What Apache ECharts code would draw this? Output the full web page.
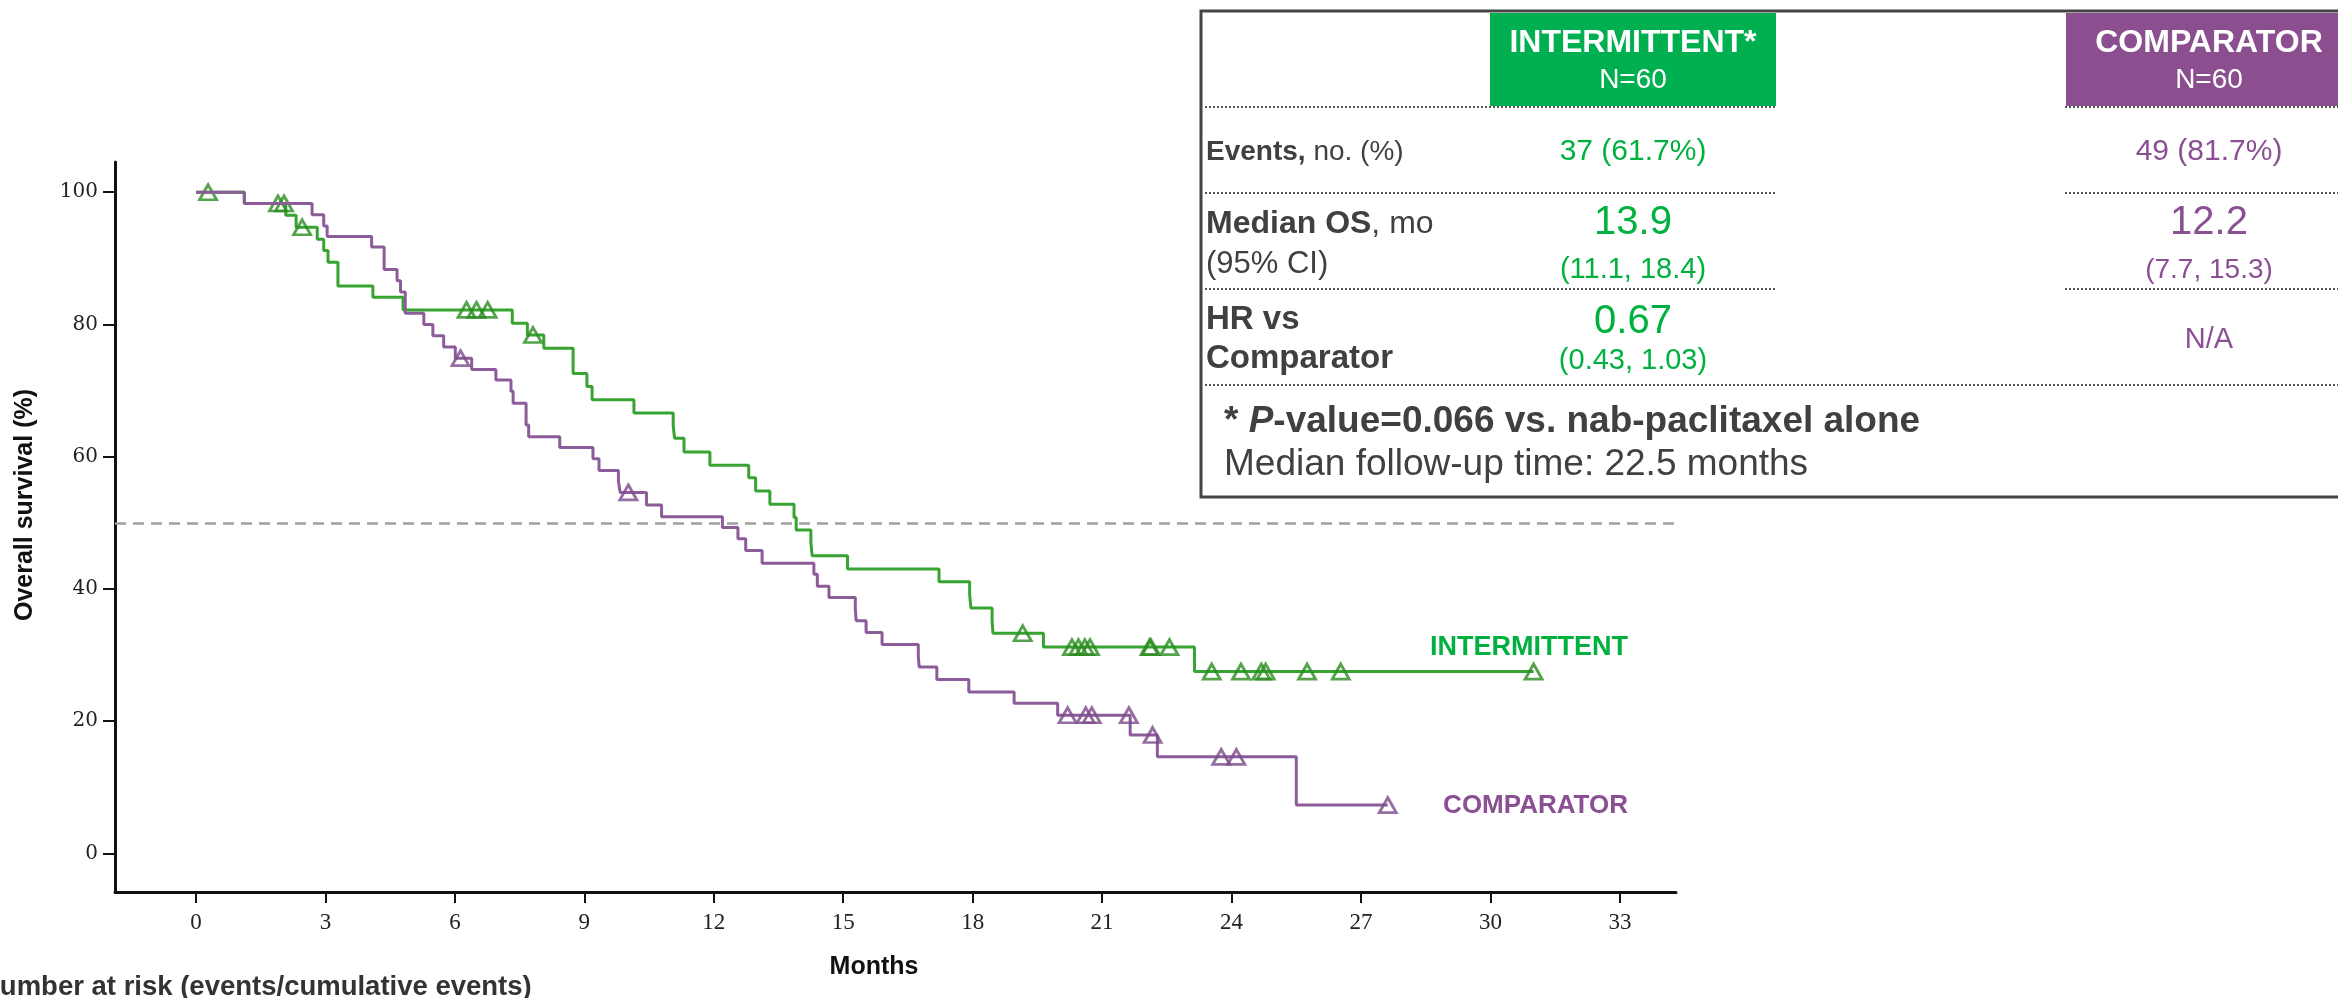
<!DOCTYPE html>
<html>
<head>
<meta charset="utf-8">
<script src="https://cdn.jsdelivr.net/npm/echarts@6/dist/echarts.min.js"></script>
<style>
  html, body { margin: 0; padding: 0; background: #ffffff; }
  #chart { width: 2338px; height: 998px; }
</style>
</head>
<body>
<div id="chart"></div>
<script>
// Kaplan–Meier overall survival: step times (months) and survival (%) after each step
const intermittentTimes = [0, 1.12, 2.08, 2.32, 2.81, 2.96, 3.06, 3.29, 4.10, 4.80,
  7.33, 7.68, 8.06, 8.74, 9.06, 9.18, 10.15, 11.06, 11.09, 11.31,
  11.91, 12.81, 12.97, 13.30, 13.86, 13.91, 14.25, 14.28, 15.10, 17.22,
  17.93, 17.96, 18.45, 18.47, 19.64, 23.14];
const intermittentSurvival = [100, 98.3, 96.5, 94.7, 92.9, 91.2, 89.4, 85.8, 84.1, 82.2,
  80.2, 78.4, 76.4, 72.6, 70.6, 68.6, 66.6, 64.7, 62.8, 60.7,
  58.7, 56.8, 54.8, 52.8, 50.8, 48.9, 47.0, 45.0, 43.0, 41.1,
  39.1, 37.1, 35.2, 33.3, 31.2, 27.5];
const intermittentCensored = [0.28, 1.90, 2.04, 2.46, 6.27, 6.50, 6.76, 7.81, 19.16, 20.30,
  20.45, 20.60, 20.72, 22.10, 22.13, 22.56, 23.54, 24.22, 24.69, 24.79, 25.75, 26.53, 31.0];

const comparatorTimes = [0, 1.12, 2.69, 2.96, 3.04, 4.07, 4.36, 4.66, 4.74, 4.85,
  5.28, 5.49, 5.74, 6.01, 6.39, 6.95, 7.30, 7.35, 7.65, 7.71,
  8.43, 9.20, 9.34, 9.79, 9.83, 10.44, 10.79, 12.20, 12.56, 12.74,
  13.12, 14.32, 14.40, 14.67, 15.28, 15.30, 15.53, 15.90, 16.74, 16.76,
  17.17, 17.91, 18.96, 19.97, 21.65, 22.28, 25.50];
const comparatorSurvival = [100, 98.3, 96.6, 94.9, 93.3, 91.7, 88.3, 86.6, 84.9, 81.7,
  80.0, 78.3, 76.6, 74.9, 73.2, 71.6, 69.9, 68.1, 64.8, 63.0,
  61.4, 59.7, 57.9, 56.3, 54.6, 52.7, 50.9, 49.3, 47.6, 45.8,
  43.9, 42.2, 40.4, 38.7, 37.0, 35.2, 33.4, 31.6, 29.8, 28.2,
  26.3, 24.4, 22.7, 20.9, 17.9, 14.6, 7.3];
const comparatorCensored = [6.13, 10.02, 20.20, 20.62, 20.76, 21.62, 22.17, 23.76, 24.11, 27.62];

const monthTicks = [0, 3, 6, 9, 12, 15, 18, 21, 24, 27, 30, 33];
const survivalTicks = [0, 20, 40, 60, 80, 100];
const medianLevel = 50;

// Summary table contents
const armNames = ['INTERMITTENT*', 'COMPARATOR'];
const armN = ['N=60', 'N=60'];
const eventsText = ['37 (61.7%)', '49 (81.7%)'];
const medianOS = ['13.9', '12.2'];
const medianCI = ['(11.1, 18.4)', '(7.7, 15.3)'];
const hazardRatio = ['0.67', 'N/A'];
const hazardCI = ['(0.43, 1.03)', ''];

const GREEN_LINE = '#37a330', GREEN_MARK = '#2c8c20', GREEN_TEXT = '#00b140', GREEN_FILL = '#00b050';
const PURPLE_LINE = '#8b5c99', PURPLE_MARK = '#7c4b8b', PURPLE_TEXT = '#8b4f94', PURPLE_FILL = '#8b4f8f';
const DARK = '#404040';
const SANS = '"Liberation Sans", Arial, sans-serif';

function stepSeriesData(times, surv, censored) {
  const pts = times.map((t, i) => [t, surv[i]]);
  const end = Math.max(times[times.length - 1], ...censored);
  pts.push([end, surv[surv.length - 1]]);
  return pts;
}
function survivalAt(times, surv, t) {
  let v = surv[0];
  for (let i = 0; i < times.length; i++) if (times[i] <= t) v = surv[i];
  return v;
}
function censorData(times, surv, censored) {
  return censored.map(t => [t, survivalAt(times, surv, t)]);
}

function txt(x, y, text, opts) {
  return {
    type: 'text', x: x, y: y, z: 20,
    style: Object.assign({
      text: text, fill: DARK, fontFamily: SANS, fontSize: 28,
      align: 'left', verticalAlign: 'middle'
    }, opts || {})
  };
}
function dotted(x1, x2, y) {
  return {
    type: 'line', z: 15,
    shape: { x1: x1, y1: y, x2: x2, y2: y },
    style: { stroke: '#555555', lineWidth: 2, lineDash: [2, 2] }
  };
}
function mixed(boldPart, plainPart, size) {
  return {
    text: '{b|' + boldPart + '}{n|' + plainPart + '}',
    rich: { b: { fontWeight: 'bold', fontSize: size, fontFamily: SANS, fill: DARK },
            n: { fontSize: size, fontFamily: SANS, fill: DARK } }
  };
}

const colL = 1206, colG = 1633, colP = 2209;

const graphics = [
  // summary table frame and coloured headers
  { type: 'rect', z: 10, shape: { x: 1201, y: 11, width: 1200, height: 486 },
    style: { fill: '#ffffff', stroke: '#454545', lineWidth: 3 } },
  { type: 'rect', z: 11, shape: { x: 1490, y: 13, width: 286, height: 93 }, style: { fill: GREEN_FILL } },
  { type: 'rect', z: 11, shape: { x: 2066, y: 13, width: 290, height: 93 }, style: { fill: PURPLE_FILL } },
  txt(colG, 43, armNames[0], { fill: '#ffffff', fontWeight: 'bold', fontSize: 32, align: 'center' }),
  txt(colG, 80, armN[0], { fill: '#ffffff', fontSize: 28, align: 'center' }),
  txt(colP, 43, armNames[1], { fill: '#ffffff', fontWeight: 'bold', fontSize: 32, align: 'center' }),
  txt(colP, 80, armN[1], { fill: '#ffffff', fontSize: 28, align: 'center' }),
  dotted(1205, 1776, 107), dotted(2065, 2338, 107),
  dotted(1205, 1776, 193), dotted(2065, 2338, 193),
  dotted(1205, 1776, 289), dotted(2065, 2338, 289),
  dotted(1205, 2338, 385),
  // row: events
  txt(colL, 152, '', mixed('Events,', ' no. (%)', 28)),
  txt(colG, 152, eventsText[0], { fill: GREEN_TEXT, align: 'center', fontSize: 30 }),
  txt(colP, 152, eventsText[1], { fill: PURPLE_TEXT, align: 'center', fontSize: 30 }),
  // row: median OS
  txt(colL, 224, '', mixed('Median OS', ', mo', 32)),
  txt(colL, 264, '(95% CI)', { fontSize: 31 }),
  txt(colG, 223, medianOS[0], { fill: GREEN_TEXT, align: 'center', fontSize: 40 }),
  txt(colG, 270, medianCI[0], { fill: GREEN_TEXT, align: 'center', fontSize: 29 }),
  txt(colP, 223, medianOS[1], { fill: PURPLE_TEXT, align: 'center', fontSize: 40 }),
  txt(colP, 270, medianCI[1], { fill: PURPLE_TEXT, align: 'center', fontSize: 28 }),
  // row: hazard ratio
  txt(colL, 320, 'HR vs', { fontWeight: 'bold', fontSize: 33 }),
  txt(colL, 359, 'Comparator', { fontWeight: 'bold', fontSize: 33 }),
  txt(colG, 322, hazardRatio[0], { fill: GREEN_TEXT, align: 'center', fontSize: 40 }),
  txt(colG, 361, hazardCI[0], { fill: GREEN_TEXT, align: 'center', fontSize: 29 }),
  txt(colP, 340, hazardRatio[1], { fill: PURPLE_TEXT, align: 'center', fontSize: 29 }),
  // footnotes
  txt(1224, 422, '{s|* }{p|P}{s|-value=0.066 vs. nab-paclitaxel alone}', {
    rich: { s: { fontWeight: 'bold', fontSize: 37, fontFamily: SANS, fill: DARK },
            p: { fontWeight: 'bold', fontStyle: 'italic', fontSize: 37, fontFamily: SANS, fill: DARK } } }),
  txt(1224, 465, 'Median follow-up time: 22.5 months', { fontSize: 37 }),
  // curve labels
  txt(1628, 648, 'INTERMITTENT', { fill: GREEN_TEXT, fontWeight: 'bold', fontSize: 27, align: 'right' }),
  txt(1628, 806, 'COMPARATOR', { fill: PURPLE_TEXT, fontWeight: 'bold', fontSize: 26, align: 'right' }),
  // axis titles
  { type: 'text', x: 25, y: 505, rotation: Math.PI / 2, z: 20,
    style: { text: 'Overall survival (%)', fill: '#111111', fontFamily: SANS, fontWeight: 'bold',
             fontSize: 25, align: 'center', verticalAlign: 'middle' } },
  txt(874, 967, 'Months', { fill: '#111111', fontWeight: 'bold', fontSize: 25, align: 'center' }),
  txt(-20, 987, 'Number at risk (events/cumulative events)', { fill: '#333333', fontWeight: 'bold', fontSize: 27.5 })
];

const chart = echarts.init(document.getElementById('chart'), null, { renderer: 'canvas' });
chart.setOption({
  animation: false,
  backgroundColor: '#ffffff',
  grid: { left: 115, right: 662, top: 162, bottom: 106, containLabel: false, outerBoundsMode: 'none' },
  xAxis: {
    type: 'value', min: -1.877, max: 34.3,
    splitLine: { show: false },
    axisLine: { onZero: false, lineStyle: { color: '#111111', width: 3 } },
    axisTick: { customValues: monthTicks, length: 11, lineStyle: { color: '#111111', width: 2 } },
    axisLabel: { customValues: monthTicks, fontFamily: '"Liberation Serif", "Times New Roman", serif',
                 fontSize: 23, color: '#222222', margin: 19 }
  },
  yAxis: {
    type: 'value', min: -5.84, max: 104.57,
    splitLine: { show: false },
    axisLine: { onZero: false, lineStyle: { color: '#111111', width: 3 } },
    axisTick: { customValues: survivalTicks, length: 12, lineStyle: { color: '#111111', width: 2 } },
    axisLabel: { customValues: survivalTicks, fontFamily: '"DejaVu Serif", serif',
                 fontSize: 20, color: '#222222', margin: 17 }
  },
  graphic: graphics,
  series: [
    {
      name: 'median', type: 'line', data: [], z: 1,
      markLine: {
        silent: true, symbol: 'none', label: { show: false },
        lineStyle: { type: [11, 7], color: '#a0a0a0', width: 2.5 },
        data: [{ yAxis: medianLevel }]
      }
    },
    {
      name: 'INTERMITTENT', type: 'line', step: 'end', z: 3, showSymbol: false,
      data: stepSeriesData(intermittentTimes, intermittentSurvival, intermittentCensored),
      lineStyle: { color: GREEN_LINE, width: 3 }
    },
    {
      name: 'INTERMITTENT censored', type: 'scatter', z: 4, symbol: 'triangle', symbolSize: [17, 15],
      data: censorData(intermittentTimes, intermittentSurvival, intermittentCensored),
      itemStyle: { color: 'rgba(255,255,255,0)', borderColor: GREEN_MARK, borderWidth: 2.8 }
    },
    {
      name: 'COMPARATOR', type: 'line', step: 'end', z: 5, showSymbol: false,
      data: stepSeriesData(comparatorTimes, comparatorSurvival, comparatorCensored),
      lineStyle: { color: PURPLE_LINE, width: 3 }
    },
    {
      name: 'COMPARATOR censored', type: 'scatter', z: 6, symbol: 'triangle', symbolSize: [17, 15],
      data: censorData(comparatorTimes, comparatorSurvival, comparatorCensored),
      itemStyle: { color: 'rgba(255,255,255,0)', borderColor: PURPLE_MARK, borderWidth: 2.8 }
    }
  ]
});
</script>
</body>
</html>
